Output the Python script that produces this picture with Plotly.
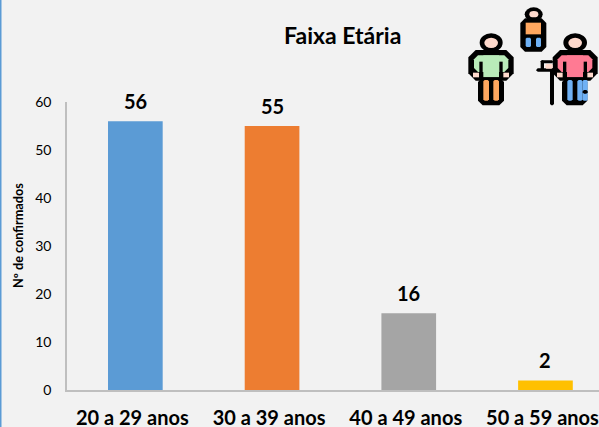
import plotly.graph_objects as go

categories = ["20 a 29 anos", "30 a 39 anos", "40 a 49 anos", "50 a 59 anos"]
values = [56, 55, 16, 2]
colors = ["#5B9BD5", "#ED7D31", "#A5A5A5", "#FFC000"]
y_ticks = [0, 10, 20, 30, 40, 50, 60]

W, H = 599, 427
L, R, T, B = 67, 0, 102, 37
PW, PH = W - L - R, H - T - B
FONT = "Lato, Carlito, 'Open Sans', sans-serif"

fig = go.Figure(go.Bar(
    x=categories, y=values, marker=dict(color=colors, line=dict(width=0)),
    width=0.4, hoverinfo="skip",
))

def px(x):
    return (440 + x / 3 - L) / PW

def py(y):
    return (H - B - y / 3) / PH

shapes = []

def path(d, fill=None, line=None, lw=0):
    s = dict(type="path", path=d, xref="paper", yref="paper", layer="above",
             line=dict(width=lw, color=line or "rgba(0,0,0,0)"))
    if fill:
        s["fillcolor"] = fill
    shapes.append(s)

def rrect(x0, y0, x1, y1, fill, r=0):
    r = min(r, (x1 - x0) / 2, (y1 - y0) / 2)
    pts = [(x0 + r, y0), (x1 - r, y0), (x1, y0 + r), (x1, y1 - r), (x1 - r, y1), (x0 + r, y1), (x0, y1 - r), (x0, y0 + r)]
    d = "M" + " L".join(f"{px(a):.5f},{py(b):.5f}" for a, b in pts) + " Z"
    path(d, fill=fill)

def ell(x0, y0, x1, y1, fill):
    shapes.append(dict(type="circle", xref="paper", yref="paper", layer="above",
                       x0=px(x0), x1=px(x1), y0=py(y1), y1=py(y0),
                       fillcolor=fill, line=dict(width=0)))

K = "#000000"
SKIN = "#FFD9CC"

# left person
ell(119, 100, 188, 156, K); ell(133, 113, 174, 144, SKIN)
rrect(85, 150, 221, 242, K, 22)
rrect(102, 166, 205, 216, "#B9EBB9", 12)
rrect(130, 166, 177, 232, "#B9EBB9", 0)
rrect(118, 185, 128, 240, K); rrect(178, 185, 188, 240, K)
rrect(99, 218, 117, 232, SKIN); rrect(190, 218, 207, 232, SKIN)
rrect(114, 232, 192, 316, K, 14)
rrect(130, 240, 147, 302, "#FFA75F", 4); rrect(160, 240, 177, 302, "#FFA75F", 4)

# child
ell(254, 22, 308, 64, K); ell(268, 33, 295, 52, SKIN)
rrect(241, 55, 319, 155, K, 14)
rrect(257, 68, 303, 103, "#FFA75F")
rrect(257, 113, 273, 141, "#6FB1F5", 3); rrect(288, 113, 303, 141, "#6FB1F5", 3)

# right person
ell(370, 100, 441, 156, K); ell(385, 113, 426, 144, SKIN)
rrect(338, 150, 473, 242, K, 22)
rrect(353, 166, 457, 216, "#FF7A93", 12)
rrect(381, 166, 429, 232, "#FF7A93")
rrect(369, 185, 379, 240, K); rrect(431, 185, 441, 240, K)
rrect(351, 218, 368, 232, SKIN); rrect(442, 218, 459, 232, SKIN)
rrect(366, 232, 442, 316, K, 14)
rrect(382, 240, 398, 302, "#6FB1F5", 4); rrect(412, 240, 428, 302, "#6FB1F5", 4)
rrect(428, 240, 443, 302, "#6FB1F5", 3); rrect(428, 270, 443, 281, K, 4)
# cane
rrect(302, 181, 340, 190, K, 4); rrect(302, 181, 312, 212, K, 3)
rrect(289, 205, 345, 215, K, 4); rrect(330, 205, 342, 316, K, 4)
rrect(316, 192, 338, 206, SKIN, 3)

# left window edge
shapes.append(dict(type="rect", xref="paper", yref="paper", layer="above",
                   x0=-L / PW, x1=(1.5 - L) / PW, y0=-B / PH, y1=(H - B) / PH,
                   fillcolor="#5B9BD5", line=dict(width=0)))

labels = [dict(x=c, y=v, xref="x", yref="y", text=f"<b>{v}</b>", showarrow=False,
               yanchor="bottom", yshift=6, font=dict(family=FONT, size=20, color="#000"))
          for c, v in zip(categories, values)]

fig.update_layout(
    width=W, height=H, autosize=False,
    margin=dict(l=L, r=R, t=T, b=B, pad=0, autoexpand=False),
    paper_bgcolor="#F2F2F2", plot_bgcolor="#F2F2F2",
    showlegend=False, shapes=shapes,
    font=dict(family=FONT, color="#000"),
    annotations=labels + [
        dict(text="<b>Faixa Etária</b>", xref="paper", yref="paper",
             x=(342 - L) / PW, y=(H - B - 35) / PH, xanchor="center", yanchor="middle",
             showarrow=False, font=dict(family=FONT, size=23, color="#000")),
        dict(text="<b>Nº de confirmados</b>", xref="paper", yref="paper",
             x=(18 - L) / PW, y=(H - B - 236) / PH, xanchor="center", yanchor="middle",
             textangle=-90, showarrow=False, font=dict(family=FONT, size=12.7, color="#000")),
    ],
    xaxis=dict(type="category", range=[-0.5, -0.5 + PW / 136.7], showgrid=False, ticks="",
               showline=True, linecolor="#BFBFBF", linewidth=1.5, zeroline=False, automargin=False,
               ticklabelstandoff=9, ticklabelshift=-3,
               tickfont=dict(family=FONT, size=20, color="#000"), tickprefix="<b>", ticksuffix="</b>"),
    yaxis=dict(range=[0, 60], tickvals=y_ticks, showgrid=False, ticks="", zeroline=False, automargin=False,
               showline=True, linecolor="#BFBFBF", linewidth=1.5, ticklabelstandoff=11,
               tickfont=dict(family=FONT, size=14, color="#000"), tickprefix="<b>", ticksuffix="</b>"),
    bargap=0.6,
)
fig.write_html("out.html", config=dict(displayModeBar=False),
               post_script="document.documentElement.style.margin='0';document.body.style.margin='0';document.body.style.background='#F2F2F2';")
